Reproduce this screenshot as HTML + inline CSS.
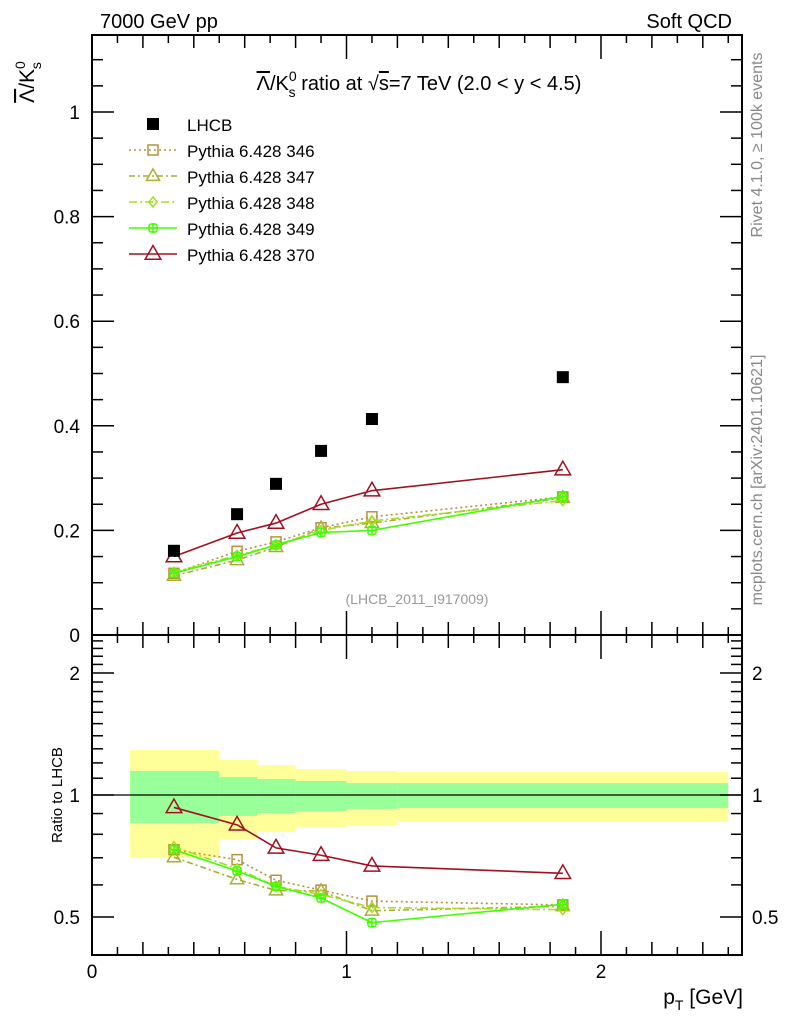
<!DOCTYPE html>
<html><head><meta charset="utf-8"><style>
body{margin:0;background:#fff}
svg{display:block;font-family:"Liberation Sans",sans-serif}
</style></head><body>
<svg id="c" width="786" height="1024" viewBox="0 0 786 1024">
<g id="bands"></g>
<g id="axes"></g>
<g id="series"></g>
<text x="100" y="28" font-size="20">7000 GeV pp</text>
<text x="732" y="28" font-size="20" text-anchor="end">Soft QCD</text>
<text x="419" y="90" font-size="20" text-anchor="middle"><tspan text-decoration="overline">Λ</tspan>/K<tspan font-size="14" dy="-9">0</tspan><tspan font-size="14" dx="-8" dy="16">s</tspan><tspan dy="-7"> ratio at √</tspan><tspan text-decoration="overline">s</tspan>=7 TeV (2.0 &lt; y &lt; 4.5)</text>
<text transform="translate(34,82) rotate(-90)" font-size="21" text-anchor="middle"><tspan text-decoration="overline">Λ</tspan>/K<tspan font-size="14" dy="-9">0</tspan><tspan font-size="14" dx="-8" dy="16">s</tspan></text>
<text transform="translate(62,795) rotate(-90)" font-size="15" text-anchor="middle">Ratio to LHCB</text>
<text x="743" y="1004" font-size="21" text-anchor="end">p<tspan font-size="14" dy="6">T</tspan><tspan dy="-6"> [GeV]</tspan></text>
<text transform="translate(762,145) rotate(-90)" font-size="16" fill="#888" text-anchor="middle">Rivet 4.1.0, ≥ 100k events</text>
<text transform="translate(762,480) rotate(-90)" font-size="16" fill="#888" text-anchor="middle">mcplots.cern.ch [arXiv:2401.10621]</text>
<text x="417" y="604" font-size="14" fill="#999" text-anchor="middle">(LHCB_2011_I917009)</text>
<g id="legend"></g>
</svg>
<script>
const xCenters=[0.322,0.57,0.723,0.9,1.1,1.85];
const binEdges=[0.15,0.5,0.65,0.8,1.0,1.2,2.5];
const dataVals=[0.161,0.231,0.289,0.352,0.413,0.493];
const yellowHi=[1.291,1.220,1.186,1.159,1.146,1.139];
const greenHi=[1.146,1.108,1.095,1.083,1.070,1.070];
const greenLo=[0.853,0.888,0.903,0.913,0.924,0.929];
const yellowLo=[0.699,0.779,0.810,0.834,0.843,0.858];
const s346=[0.118,0.160,0.178,0.205,0.226,0.264];
const s347=[0.113,0.143,0.168,0.204,0.214,0.262];
const s348=[0.120,0.152,0.172,0.200,0.218,0.257];
const s349=[0.118,0.150,0.172,0.196,0.200,0.265];
const s370=[0.150,0.195,0.214,0.250,0.276,0.316];
const legendLabels=["LHCB","Pythia 6.428 346","Pythia 6.428 347","Pythia 6.428 348","Pythia 6.428 349","Pythia 6.428 370"];
const mainTicks=["0","0.2","0.4","0.6","0.8","1"];
const ratioTicks=["0.5","1","2"];
const xTicks=["0","1","2"];

const NS="http://www.w3.org/2000/svg";
const L=92,R=742,T=35,M=635,B=955;
const X=v=>L+v*254.5;
const Y=v=>M-v*523;
const RY=v=>795-Math.log2(v)*122;
function mk(tag,attrs,parent){const e=document.createElementNS(NS,tag);for(const k in attrs)e.setAttribute(k,attrs[k]);parent.appendChild(e);return e;}
const ax=document.getElementById('axes'),bd=document.getElementById('bands'),sr=document.getElementById('series'),lg=document.getElementById('legend');

for(let i=0;i<xCenters.length;i++){
  const x0=X(binEdges[i]),x1=X(binEdges[i+1]);
  const y=mk('rect',{x:x0,y:RY(yellowHi[i]),width:x1-x0,height:RY(yellowLo[i])-RY(yellowHi[i]),fill:'#ffff99'},bd);
  
  
  const g=mk('rect',{x:x0,y:RY(greenHi[i]),width:x1-x0,height:RY(greenLo[i])-RY(greenHi[i]),fill:'#99ff99'},bd);
  
  
}
mk('line',{x1:L,x2:R,y1:RY(1),y2:RY(1),stroke:'#000','stroke-width':1.2},bd);

const f1=mk('rect',{x:L,y:T,width:R-L,height:M-T,fill:'none',stroke:'#000','stroke-width':2},ax);


const f2=mk('rect',{x:L,y:M,width:R-L,height:B-M,fill:'none',stroke:'#000','stroke-width':2},ax);


for(let k=0;k<=22;k++){const v=k*0.05;const y=Y(v);if(y<T)break;const len=k%4==0?22:11;
  mk('line',{x1:L,x2:L+len,y1:y,y2:y,stroke:'#000','stroke-width':1.5},ax);
  mk('line',{x1:R,x2:R-len,y1:y,y2:y,stroke:'#000','stroke-width':1.5},ax);}
mainTicks.forEach(t=>{const e=mk('text',{x:L-12,y:Y(+t)+7,'font-size':19,'text-anchor':'end'},ax);e.textContent=t;
  
  });
const rt=[];for(let v=0.4;v<=0.95;v+=0.1)rt.push(v);for(let v=1;v<=2.45;v+=0.1)rt.push(v);
rt.forEach(v=>{const y=RY(v);if(y<M||y>B)return;const maj=Math.abs(v-0.5)<1e-6||Math.abs(v-1)<1e-6||Math.abs(v-2)<1e-6;const len=maj?22:11;
  mk('line',{x1:L,x2:L+len,y1:y,y2:y,stroke:'#000','stroke-width':1.5},ax);
  mk('line',{x1:R,x2:R-len,y1:y,y2:y,stroke:'#000','stroke-width':1.5},ax);});
ratioTicks.forEach(t=>{const e=mk('text',{x:L-12,y:RY(+t)+7,'font-size':19,'text-anchor':'end'},ax);e.textContent=t;
  
  
  const e2=mk('text',{x:R+10,y:RY(+t)+7,'font-size':19},ax);e2.textContent=t;
  
  });
for(let k=0;k<=25;k++){const x=X(k*0.1);const len=k%10==0?24:(k%2==0?13:8);
  [[T,1],[M,-1],[M,1],[B,-1]].forEach(([y0,d])=>mk('line',{x1:x,x2:x,y1:y0,y2:y0+d*len,stroke:'#000','stroke-width':1.5},ax));}
xTicks.forEach(t=>{const e=mk('text',{x:X(+t),y:978,'font-size':19,'text-anchor':'middle'},ax);e.textContent=t;
  
  });

function marker(type,x,y,col,g,size){
  if(type=='fsq')mk('rect',{x:x-6,y:y-6,width:12,height:12,fill:'#000'},g);
  else if(type=='sq')mk('rect',{x:x-5,y:y-5,width:10,height:10,fill:'none',stroke:col,'stroke-width':1.5},g);
  else if(type=='tri'){const s=size||5.5;mk('polygon',{points:`${x},${y-s*1.3} ${x-s*1.2},${y+s*0.8} ${x+s*1.2},${y+s*0.8}`,fill:'none',stroke:col,'stroke-width':1.5},g);}
  else if(type=='dia')mk('polygon',{points:`${x},${y-5} ${x-4},${y} ${x},${y+5} ${x+4},${y}`,fill:'none',stroke:col,'stroke-width':1.5},g);
  else if(type=='cross'){mk('rect',{x:x-4,y:y-4,width:8,height:8,rx:2,fill:'none',stroke:col,'stroke-width':1.5},g);mk('line',{x1:x-5,x2:x+5,y1:y,y2:y,stroke:col,'stroke-width':1.5},g);mk('line',{x1:x,x2:x,y1:y-5,y2:y+5,stroke:col,'stroke-width':1.5},g);}
}
const series=[
 {vals:s346,col:'#b8903c',dash:'2,3',m:'sq',name:'series-346'},
 {vals:s347,col:'#a8b030',dash:'6,3,2,3',m:'tri',name:'series-347'},
 {vals:s348,col:'#a0e020',dash:'8,3,2,3',m:'dia',name:'series-348'},
 {vals:s349,col:'#40ff00',dash:'',m:'cross',name:'series-349'},
 {vals:s370,col:'#a01020',dash:'',m:'tri',name:'series-370',big:6.5}
];
series.forEach(s=>{
  const g=mk('g',{},sr);
  
  
  const pm=s.vals.map((v,i)=>X(xCenters[i])+','+Y(v)).join(' ');
  const pr=s.vals.map((v,i)=>X(xCenters[i])+','+RY(v/dataVals[i])).join(' ');
  const a={fill:'none',stroke:s.col,'stroke-width':1.6};if(s.dash)a['stroke-dasharray']=s.dash;
  mk('polyline',Object.assign({points:pm},a),g);mk('polyline',Object.assign({points:pr},a),g);
  s.vals.forEach((v,i)=>{marker(s.m,X(xCenters[i]),Y(v),s.col,g,s.big);marker(s.m,X(xCenters[i]),RY(v/dataVals[i]),s.col,g,s.big);});
});
const dg=mk('g',{},sr);


dataVals.forEach((v,i)=>marker('fsq',X(xCenters[i]),Y(v),'#000',dg));

legendLabels.forEach((t,i)=>{const y=124+i*26;
  const e=mk('text',{x:187,y:y+7,'font-size':17},lg);e.textContent=t;
  
  
  if(i==0){marker('fsq',153,y,'#000',lg);return;}
  const s=series[i-1];const a={x1:129,x2:177,y1:y,y2:y,stroke:s.col,'stroke-width':1.5};if(s.dash)a['stroke-dasharray']=s.dash;
  mk('line',a,lg);marker(s.m,153,y,s.col,lg,s.big);});
</script>
</body></html>
